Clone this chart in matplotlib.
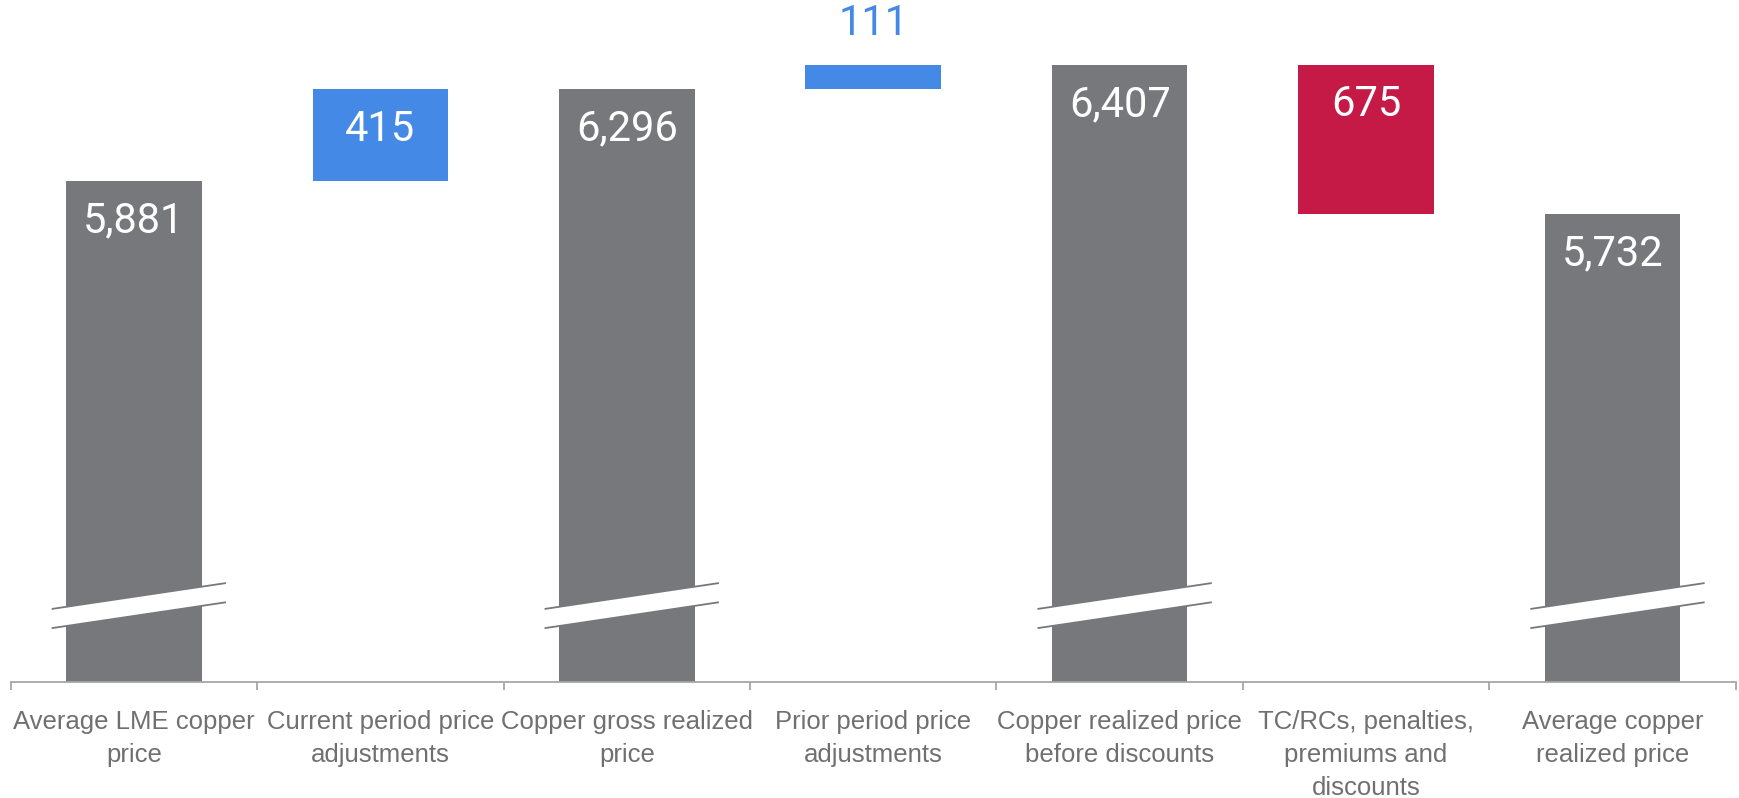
import matplotlib
matplotlib.use("Agg")
import matplotlib.pyplot as plt
from matplotlib.patches import Polygon

# Copper price bridge, $/tonne
categories = ["Average LME copper\nprice", "Current period price\nadjustments",
              "Copper gross realized\nprice", "Prior period price\nadjustments",
              "Copper realized price\nbefore discounts", "TC/RCs, penalties,\npremiums and\ndiscounts",
              "Average copper\nrealized price"]
values = [5881, 415, 6296, 111, 6407, -675, 5732]
kinds = ["total", "up", "total", "up", "total", "down", "total"]
labels = ["5,881", "415", "6,296", "111", "6,407", "675", "5,732"]

colors = {"total": "#77787b", "up": "#4589e6", "down": "#c41a45"}
axis_grey = "#a6a6a6"
text_grey = "#707070"

fig = plt.figure(figsize=(17.39, 7.98), dpi=100)
ax = fig.add_axes([0.00615, 0.1457, 0.992, 0.8543])

y_low, y_high = 3610, 6700
bar_w = 0.55

running = 0
tops = []
for i, (v, k) in enumerate(zip(values, kinds)):
    if k == "total":
        bottom, height = 0, v
        running = v
    elif k == "up":
        bottom, height = running, v
        running += v
    else:
        bottom, height = running + v, -v
        running += v
    ax.bar(i, height, bottom=bottom, width=bar_w, color=colors[k], zorder=2)
    tops.append(bottom + height)

# value labels: inside the bar, except the thin one which sits above it
# (Roboto for the numbers: its "1" has no foot)
for i, (k, top, lab) in enumerate(zip(kinds, tops, labels)):
    if i == 3:
        ax.annotate(lab, (i, top), xytext=(0, 41), textcoords="offset pixels",
                    ha="center", va="center", fontsize=30, color=colors[k],
                    family="Roboto")
    else:
        ax.annotate(lab, (i, top), xytext=(0, -40), textcoords="offset pixels",
                    ha="center", va="center", fontsize=30, color="white",
                    family="Roboto", zorder=4)

# broken-axis marks on the total bars
brk_y, gap, half, slope, shift = 3955, 87, 0.35, 166, 0.02
for i, k in enumerate(kinds):
    if k != "total":
        continue
    x0, x1 = i + shift - half, i + shift + half
    lo0, lo1 = brk_y - gap / 2 - slope * half, brk_y - gap / 2 + slope * half
    hi0, hi1 = lo0 + gap, lo1 + gap
    ax.add_patch(Polygon([(x0, lo0), (x1, lo1), (x1, hi1), (x0, hi0)],
                         closed=True, facecolor="white", edgecolor="none", zorder=3))
    ax.plot([x0, x1], [lo0, lo1], color=colors["total"], lw=1.3, zorder=3)
    ax.plot([x0, x1], [hi0, hi1], color=colors["total"], lw=1.3, zorder=3)

ax.set_xlim(-0.5, 6.5)
ax.set_ylim(y_low, y_high)

for s in ["left", "right", "top"]:
    ax.spines[s].set_visible(False)
ax.spines["bottom"].set_color(axis_grey)
ax.spines["bottom"].set_linewidth(1.3)
ax.set_yticks([])

ax.set_xticks(range(len(categories)))
ax.set_xticklabels(categories, fontsize=18.5, color=text_grey, linespacing=1.48,
                   family="Liberation Sans")
ax.set_xticks([i - 0.5 for i in range(len(categories) + 1)], minor=True)
ax.tick_params(axis="x", which="major", length=0, pad=20)
ax.tick_params(axis="x", which="minor", length=6, width=1.3, color=axis_grey)

fig.savefig("out.png", dpi=100)
